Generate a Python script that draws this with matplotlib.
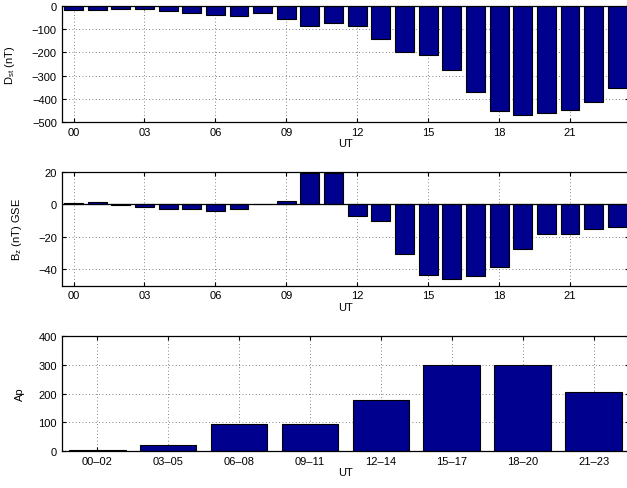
import numpy as np
import matplotlib
matplotlib.use('Agg')
import matplotlib.pyplot as plt

plt.rcParams['font.family'] = ['Liberation Sans', 'DejaVu Sans']
plt.rcParams['font.size'] = 8
plt.rcParams['mathtext.fontset'] = 'custom'
plt.rcParams['mathtext.rm'] = 'Liberation Sans'

# Dados
horas = np.arange(24)
dst = [-15, -16, -12, -12, -20, -31, -39, -44, -28, -54, -85, -74,
       -86, -143, -200, -213, -274, -370, -452, -472, -461, -448, -413, -354]
bz = [0.5, 1.2, -0.6, -1.6, -2.9, -2.7, -4.1, -2.7, 0.3, 2.0, 19.1, 19.5,
      -7.4, -10.0, -30.4, -43.2, -46.2, -44.4, -38.8, -27.3, -18.3, -18.5, -15.4, -14.0]
ap_labels = ['00\u201302', '03\u201305', '06\u201308', '09\u201311',
             '12\u201314', '15\u201317', '18\u201320', '21\u201323']
ap = [4, 22, 94, 94, 179, 300, 300, 207]
hour_ticks = np.arange(0, 24, 3)
hour_labels = ['%02d' % h for h in hour_ticks]

cor = '#00008f'

def estilo(ax):
    ax.tick_params(direction='in', top=True, right=True, length=3, width=0.8, labelsize=8)
    for s in ax.spines.values():
        s.set_linewidth(0.9)
    ax.grid(True, linestyle=(0, (1, 3)), color='0.35', linewidth=0.6)
    ax.set_axisbelow(True)

fig = plt.figure(figsize=(6.27, 4.89), dpi=100)

# Dst
ax1 = fig.add_axes([0.0984, 0.749, 0.905, 0.236])
ax1.bar(horas, dst, width=0.8, color=cor, edgecolor='black', linewidth=0.8)
ax1.set_xlim(-0.5, 23.5)
ax1.set_ylim(-500, 0)
ax1.set_yticks(np.arange(-500, 1, 100))
ax1.set_xticks(hour_ticks)
ax1.set_xticklabels(hour_labels)
ax1.set_xlabel('UT', labelpad=1)
ax1.set_ylabel(r'$\mathregular{D_{st}}$ (nT)')
ax1.yaxis.set_label_coords(-0.079, 0.5)
estilo(ax1)

# Bz
ax2 = fig.add_axes([0.0984, 0.414, 0.905, 0.2327])
ax2.bar(horas, bz, width=0.8, color=cor, edgecolor='black', linewidth=0.8)
ax2.axhline(0, color='black', linewidth=0.9)
ax2.set_xlim(-0.5, 23.5)
ax2.set_ylim(-50, 20)
ax2.set_yticks([-40, -20, 0, 20])
ax2.set_xticks(hour_ticks)
ax2.set_xticklabels(hour_labels)
ax2.set_xlabel('UT', labelpad=1)
ax2.set_ylabel(r'$\mathregular{B_z}$ (nT) GSE')
ax2.yaxis.set_label_coords(-0.066, 0.5)
estilo(ax2)

# Ap
ax3 = fig.add_axes([0.0984, 0.0757, 0.905, 0.2346])
pos = np.arange(1, len(ap) + 1)
ax3.bar(pos, ap, width=0.8, color=cor, edgecolor='black', linewidth=0.8)
ax3.set_xlim(0.5, 8.5)
ax3.set_ylim(0, 400)
ax3.set_yticks(np.arange(0, 401, 100))
ax3.set_xticks(pos)
ax3.set_xticklabels(ap_labels)
ax3.set_xlabel('UT', labelpad=1)
ax3.set_ylabel('Ap')
ax3.yaxis.set_label_coords(-0.065, 0.5)
estilo(ax3)

fig.savefig('out.png', dpi=100)
